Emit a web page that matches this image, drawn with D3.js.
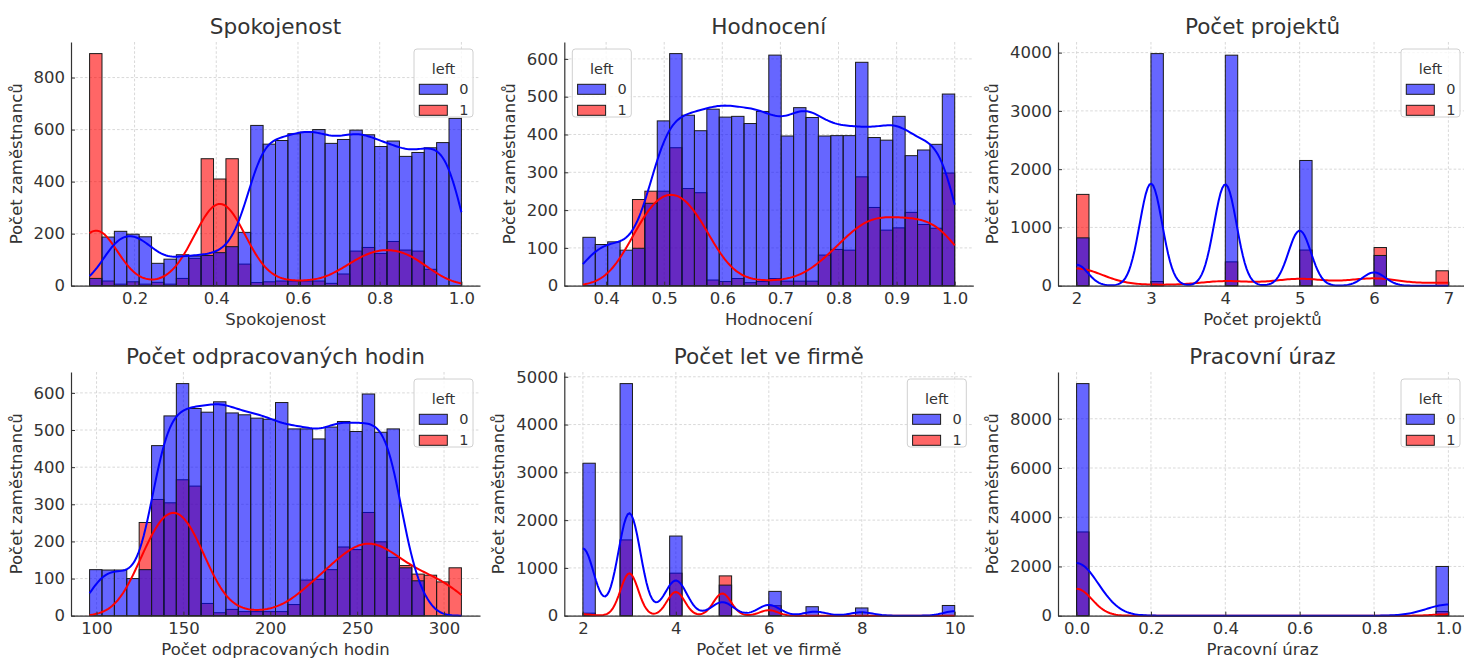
<!DOCTYPE html>
<html>
<head>
<meta charset="utf-8">
<script src="https://cdn.jsdelivr.net/npm/d3@7"></script>
<style>
	body { margin: 0; background: #fff; }
	text { font-family: "DejaVu Sans", sans-serif; fill: #333; }
</style>
</head>
<body>
<svg id="chart" width="1464" height="660"></svg>
<script>
'use strict';

// Histogram counts per bin (30 equal bins over the data range), left = 0 / left = 1
var satRange = [0.09, 1.0];
var satStay = [28, 187, 209, 198, 188, 86, 102, 119, 114, 116, 127, 150, 205, 616, 544,
	558, 584, 590, 600, 547, 562, 598, 580, 535, 556, 497, 512, 530, 550, 643];
var satLeft = [892, 18, 6, 15, 6, 13, 6, 28, 105, 488, 410, 488, 83, 12, 15,
	18, 18, 18, 18, 9, 45, 133, 147, 124, 170, 137, 133, 63, 0, 0];

var evalRange = [0.36, 1.0];
var evalStay = [128, 109, 116, 94, 99, 218, 436, 614, 451, 410, 467, 446, 448, 429, 461,
	610, 396, 471, 445, 396, 397, 397, 591, 392, 385, 448, 344, 359, 374, 507];
var evalLeft = [0, 0, 0, 0, 228, 250, 250, 365, 257, 246, 15, 11, 19, 8, 11,
	19, 12, 12, 12, 81, 96, 94, 288, 207, 147, 153, 194, 162, 152, 298];

var hoursRange = [96, 310];
var hoursStay = [124, 123, 123, 100, 124, 458, 538, 625, 558, 548, 576, 546, 541, 532, 529,
	574, 503, 503, 476, 508, 523, 496, 597, 494, 503, 129, 94, 0, 0, 0];
var hoursLeft = [0, 0, 0, 0, 251, 313, 304, 366, 349, 33, 8, 17, 11, 11, 11,
	11, 30, 96, 98, 124, 185, 178, 278, 199, 157, 135, 112, 109, 91, 129];

// Discrete variables: value -> count
var projectValues = [2, 3, 4, 5, 6, 7];
var projectStay = [821, 3983, 3956, 2149, 519, 0];
var projectLeft = [1567, 72, 409, 612, 655, 256];

var tenureValues = [2, 3, 4, 5, 6, 7, 8, 10];
var tenureStay = [3191, 4857, 1667, 640, 509, 188, 162, 214];
var tenureLeft = [53, 1586, 890, 833, 209, 0, 0, 0];

var accidentValues = [0, 1];
var accidentStay = [9428, 2000];
var accidentLeft = [3402, 169];

// Ticks
var satTicks = [0.2, 0.4, 0.6, 0.8, 1.0];
var evalTicks = [0.4, 0.5, 0.6, 0.7, 0.8, 0.9, 1.0];
var projectTicks = [2, 3, 4, 5, 6, 7];
var hoursTicks = [100, 150, 200, 250, 300];
var tenureTicks = [2, 4, 6, 8, 10];
var accidentTicks = [0, 0.2, 0.4, 0.6, 0.8, 1.0];

var legendLevels = ['0', '1'];
var BINS = 30;
var COLORS = { stay: '#0000ff', left: '#ff0000' };

var colLeft = [71, 564.3, 1058];
var rowTop = [42, 372];
var AX_W = 409, AX_H = 243.7;

// recorded precision of the binned variables (used to spread each bin over its values for the KDE)
var panels = [
	{ title: 'Spokojenost', range: satRange, step: 0.01, stay: satStay, left: satLeft,
		xTicks: satTicks, yTicks: [0, 200, 400, 600, 800], fmt: d3.format('.1f'), legend: 'right', col: 0, row: 0 },
	{ title: 'Hodnocení', range: evalRange, step: 0.01, stay: evalStay, left: evalLeft,
		xTicks: evalTicks, yTicks: [0, 100, 200, 300, 400, 500, 600], fmt: d3.format('.1f'), legend: 'left', col: 1, row: 0 },
	{ title: 'Počet projektů', range: [2, 7], values: projectValues, stay: projectStay, left: projectLeft,
		xTicks: projectTicks, yTicks: [0, 1000, 2000, 3000, 4000], fmt: d3.format('d'), legend: 'right', col: 2, row: 0 },
	{ title: 'Počet odpracovaných hodin', range: hoursRange, step: 1, stay: hoursStay, left: hoursLeft,
		xTicks: hoursTicks, yTicks: [0, 100, 200, 300, 400, 500, 600], fmt: d3.format('d'), legend: 'right', col: 0, row: 1 },
	{ title: 'Počet let ve firmě', range: [2, 10], values: tenureValues, stay: tenureStay, left: tenureLeft,
		xTicks: tenureTicks, yTicks: [0, 1000, 2000, 3000, 4000, 5000], fmt: d3.format('d'), legend: 'right', col: 1, row: 1 },
	{ title: 'Pracovní úraz', range: [0, 1], values: accidentValues, stay: accidentStay, left: accidentLeft,
		xTicks: accidentTicks, yTicks: [0, 2000, 4000, 6000, 8000], fmt: d3.format('.1f'), legend: 'right', col: 2, row: 1 }
];

/**
 * Index of the bin a value falls in
 */
function binIndex(v, range) {
	var w = (range[1] - range[0]) / BINS;
	return Math.min(BINS - 1, Math.floor((v - range[0]) / w + 1e-9));
}

/**
 * Put discrete values into the 30 equal-width bins
 */
function binDiscrete(values, counts, range) {
	var out = new Array(BINS).fill(0);
	values.forEach(function (v, i) {
		out[binIndex(v, range)] += counts[i];
	});
	return out;
}

/**
 * Spread each bin's count evenly over the recorded values that fall inside it
 */
function spreadBins(counts, range, step) {
	var n = Math.round((range[1] - range[0]) / step);
	var vals = d3.range(n + 1).map(function (k) { return +(range[0] + k * step).toFixed(6); });
	var members = d3.range(BINS).map(function () { return []; });
	vals.forEach(function (v) { members[binIndex(v, range)].push(v); });
	var pts = [], wts = [];
	members.forEach(function (m, i) {
		m.forEach(function (v) {
			pts.push(v);
			wts.push(counts[i] / m.length);
		});
	});
	return { pts: pts, wts: wts };
}

/**
 * Gaussian KDE (Scott bandwidth), scaled to counts like seaborn's histplot(kde=True)
 */
function kdeCurve(points, weights, range, binWidth) {
	var n = d3.sum(weights);
	var mean = d3.sum(points, function (p, i) { return p * weights[i]; }) / n;
	var variance = d3.sum(points, function (p, i) { return weights[i] * (p - mean) * (p - mean); }) / (n - 1);
	var bw = Math.sqrt(variance) * Math.pow(n, -0.2);
	var k = binWidth / (bw * Math.sqrt(2 * Math.PI));
	return d3.range(200).map(function (j) {
		var x = range[0] + (range[1] - range[0]) * j / 199;
		var y = k * d3.sum(points, function (p, i) {
			var z = (x - p) / bw;
			return weights[i] * Math.exp(-0.5 * z * z);
		});
		return [x, y];
	});
}

var svg = d3.select('#chart');
svg.append('rect').attr('width', 1464).attr('height', 660).attr('fill', '#fff');

panels.forEach(function (p) {
	var w = AX_W, h = AX_H;
	var lo = p.range[0], hi = p.range[1];
	var binWidth = (hi - lo) / BINS;
	var edges = d3.range(BINS + 1).map(function (i) { return lo + i * binWidth; });

	var stayBins, leftBins, kdeStay, kdeLeft;
	if (p.values) {
		stayBins = binDiscrete(p.values, p.stay, p.range);
		leftBins = binDiscrete(p.values, p.left, p.range);
		kdeStay = kdeCurve(p.values, p.stay, p.range, binWidth);
		kdeLeft = kdeCurve(p.values, p.left, p.range, binWidth);
	} else {
		stayBins = p.stay;
		leftBins = p.left;
		var s0 = spreadBins(p.stay, p.range, p.step);
		var s1 = spreadBins(p.left, p.range, p.step);
		kdeStay = kdeCurve(s0.pts, s0.wts, p.range, binWidth);
		kdeLeft = kdeCurve(s1.pts, s1.wts, p.range, binWidth);
	}

	var span = hi - lo;
	var x = d3.scaleLinear().domain([lo - 0.05 * span, hi + 0.05 * span]).range([0, w]);
	var yMax = d3.max([d3.max(stayBins), d3.max(leftBins),
		d3.max(kdeStay, function (d) { return d[1]; }), d3.max(kdeLeft, function (d) { return d[1]; })]);
	var y = d3.scaleLinear().domain([0, yMax * 1.05]).range([h, 0]);

	var g = svg.append('g')
		.attr('transform', 'translate(' + colLeft[p.col] + ',' + rowTop[p.row] + ')');

	// grid
	var grid = g.append('g').attr('class', 'grid')
		.attr('stroke', '#cfcfcf').attr('stroke-width', 0.8).attr('stroke-dasharray', '2.6,2');
	grid.selectAll('line.gx').data(p.xTicks).enter().append('line')
		.attr('x1', function (d) { return x(d); }).attr('x2', function (d) { return x(d); })
		.attr('y1', 0).attr('y2', h);
	grid.selectAll('line.gy').data(p.yTicks).enter().append('line')
		.attr('x1', 0).attr('x2', w)
		.attr('y1', function (d) { return y(d); }).attr('y2', function (d) { return y(d); });

	// bars: left = 1 first, left = 0 layered on top
	[{ bins: leftBins, color: COLORS.left }, { bins: stayBins, color: COLORS.stay }].forEach(function (s) {
		g.append('g').selectAll('rect')
			.data(s.bins.map(function (c, i) { return { c: c, x0: edges[i], x1: edges[i + 1] }; })
				.filter(function (d) { return d.c > 0; }))
			.enter().append('rect')
			.attr('x', function (d) { return x(d.x0); })
			.attr('width', function (d) { return x(d.x1) - x(d.x0); })
			.attr('y', function (d) { return y(d.c); })
			.attr('height', function (d) { return y(0) - y(d.c); })
			.attr('fill', s.color).attr('fill-opacity', 0.6)
			.attr('stroke', '#1a1a1a').attr('stroke-width', 1);
	});

	// kde lines
	var line = d3.line()
		.x(function (d) { return x(d[0]); })
		.y(function (d) { return y(d[1]); });
	[{ pts: kdeLeft, color: COLORS.left }, { pts: kdeStay, color: COLORS.stay }].forEach(function (s) {
		g.append('path').datum(s.pts)
			.attr('d', line).attr('fill', 'none')
			.attr('stroke', s.color).attr('stroke-width', 2);
	});

	// axes
	var xAxis = g.append('g').attr('transform', 'translate(0,' + h + ')')
		.call(d3.axisBottom(x).tickValues(p.xTicks).tickFormat(p.fmt).tickSizeInner(-4).tickSizeOuter(0).tickPadding(7));
	var yAxis = g.append('g')
		.call(d3.axisLeft(y).tickValues(p.yTicks).tickFormat(d3.format('d')).tickSizeInner(-4).tickSizeOuter(0).tickPadding(6));
	[xAxis, yAxis].forEach(function (a) {
		a.select('.domain').attr('stroke', '#333').attr('stroke-width', 1.2);
		a.selectAll('.tick line').attr('stroke', '#333');
		a.selectAll('.tick text').attr('font-size', '16.5px').attr('fill', '#333')
			.attr('font-family', '"DejaVu Sans", sans-serif');
	});

	// titles and labels
	g.append('text').attr('x', w / 2).attr('y', -8).attr('text-anchor', 'middle')
		.attr('font-size', '21.6px').text(p.title);
	g.append('text').attr('x', w / 2).attr('y', h + 39.5).attr('text-anchor', 'middle')
		.attr('font-size', '16.5px').text(p.title);
	var bb = yAxis.node().getBBox();
	g.append('text')
		.attr('transform', 'translate(' + (bb.x - 12) + ',' + (h / 2) + ') rotate(-90)')
		.attr('text-anchor', 'middle').attr('font-size', '16.5px').text('Počet zaměstnanců');

	// legend
	var lx = p.legend === 'right' ? x.range()[1] - 66 : 8;
	var leg = g.append('g').attr('transform', 'translate(' + lx + ',7)');
	leg.append('rect').attr('width', 59).attr('height', 68).attr('rx', 3)
		.attr('fill', '#fff').attr('fill-opacity', 0.8).attr('stroke', '#d0d0d0');
	leg.append('text').attr('x', 29.5).attr('y', 24.5).attr('text-anchor', 'middle')
		.attr('font-size', '14.5px').text('left');
	[COLORS.stay, COLORS.left].forEach(function (c, i) {
		leg.append('rect').attr('x', 5.3).attr('y', 35.3 + i * 21).attr('width', 28).attr('height', 10)
			.attr('fill', c).attr('fill-opacity', 0.6).attr('stroke', '#1a1a1a').attr('stroke-width', 1);
		leg.append('text').attr('x', 45.3).attr('y', 45.3 + i * 21)
			.attr('font-size', '14.5px').text(legendLevels[i]);
	});
});
</script>
</body>
</html>
